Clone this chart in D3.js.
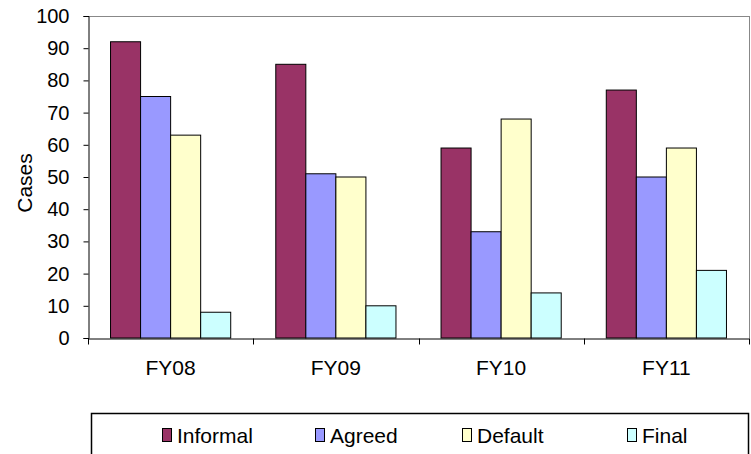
<!DOCTYPE html>
<html><head><meta charset="utf-8">
<script src="https://cdn.jsdelivr.net/npm/d3@7"></script>
<style>body{margin:0;background:#fff;}svg{display:block;font-family:"Liberation Sans",Arial,sans-serif;}</style>
</head><body>
<svg id="c" width="751" height="454"></svg>
<script>
const categories = ["FY08","FY09","FY10","FY11"];
const seriesNames = ["Informal","Agreed","Default","Final"];
const informal = [92,85,59,77];
const agreed = [75,51,33,50];
const defaultV = [63,50,68,59];
const finalV = [8,10,14,21];
const seriesColors = ["#993366","#9999FF","#FFFFCC","#CCFFFF"];
const yTicks = [0,10,20,30,40,50,60,70,80,90,100];

const seriesValues = [informal, agreed, defaultV, finalV];
const svg = d3.select("#c");
const L=88, R=749, T=16, B=338;
const x = d3.scaleBand().domain(categories).range([L,R]).paddingInner(0).paddingOuter(0);
const x1 = d3.scaleBand().domain(seriesNames).range([0,x.bandwidth()]).paddingInner(0).paddingOuter(0.75);
const y = d3.scaleLinear().domain([0,100]).range([B,T]);

// frame top/right grey
svg.append("line").attr("x1",L).attr("x2",R).attr("y1",T+0.5).attr("y2",T+0.5).attr("stroke","#888").attr("stroke-width",1);
svg.append("line").attr("x1",R+0.5).attr("x2",R+0.5).attr("y1",T).attr("y2",B).attr("stroke","#888").attr("stroke-width",1);

// bars
categories.forEach((c,i)=>{
  seriesNames.forEach((s,j)=>{
    const v = seriesValues[j][i];
    svg.append("rect")
      .attr("x", x(c)+x1(s)).attr("y", y(v))
      .attr("width", x1.bandwidth()).attr("height", B-y(v))
      .attr("fill", seriesColors[j]).attr("stroke","#000").attr("stroke-width",1);
  });
});

// y axis
const yAxis = d3.axisLeft(y).tickValues(yTicks).tickSize(5).tickPadding(14);
const gy = svg.append("g").attr("transform",`translate(${L+0.5},0)`).call(yAxis);
gy.select(".domain").attr("stroke","#000");
gy.selectAll(".tick line").attr("stroke","#000");
gy.selectAll("text").attr("font-size",20).attr("fill","#000").attr("font-family","Liberation Sans, Arial, sans-serif");

// x axis
const xAxis = d3.axisBottom(x).tickSize(0).tickPadding(22);
const gx = svg.append("g").attr("transform",`translate(0,${B+0.5})`).call(xAxis);
gx.select(".domain").attr("stroke","#000");
gx.selectAll("text").attr("font-size",21).attr("fill","#000").attr("font-family","Liberation Sans, Arial, sans-serif");
const bounds = categories.map(c=>x(c)).concat([R]);
gx.selectAll(".bt").data(bounds).enter().append("line").attr("class","bt")
  .attr("x1",d=>Math.round(d)+0.5).attr("x2",d=>Math.round(d)+0.5).attr("y1",0).attr("y2",6).attr("stroke","#000");

// y title
svg.append("text").attr("transform","translate(32,183) rotate(-90)").attr("text-anchor","middle")
  .attr("font-size",21).text("Cases");

// legend
svg.append("rect").attr("x",91.5).attr("y",413.5).attr("width",657).attr("height",60).attr("fill","#fff").attr("stroke","#000").attr("stroke-width",1.5);
const legX = [162,315,462,627];
seriesNames.forEach((s,j)=>{
  svg.append("rect").attr("x",legX[j]+0.5).attr("y",428.5).attr("width",9).attr("height",13)
    .attr("fill",seriesColors[j]).attr("stroke","#000").attr("stroke-width",1);
  svg.append("text").attr("x",legX[j]+15).attr("y",443).attr("font-size",21).text(s);
});
</script>
</body></html>
